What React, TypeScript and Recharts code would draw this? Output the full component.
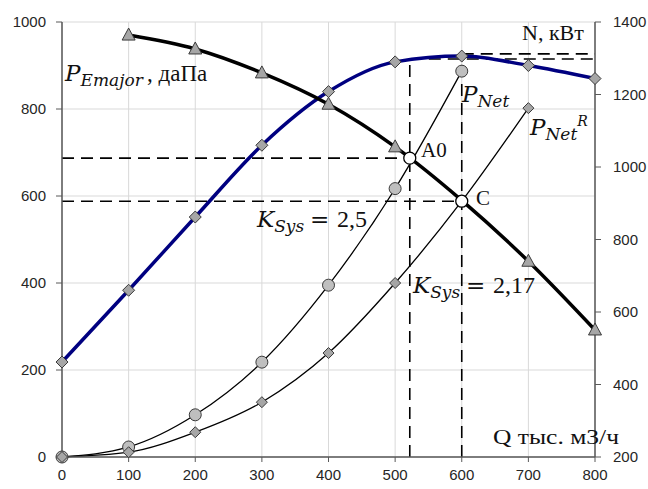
import React from 'react';
import {
  ComposedChart,
  Line,
  XAxis,
  YAxis,
  CartesianGrid,
  ReferenceLine,
  ReferenceDot,
} from 'recharts';

// Q, тыс. м3/ч
const q = [0, 100, 200, 300, 400, 500, 600, 700, 800];
// left axis, даПа
const pEmajor = [null, 970, 938, 883, 811, 713, 590, 450, 292];
const pNet = [0, 23, 97, 218, 395, 617, 887, null, null];
const pNetR = [0, 11, 57, 126, 239, 400, 588, 802, null];
// right axis, кВт
const nKw = [462, 660, 862, 1060, 1208, 1290, 1306, 1280, 1244];

const qTicks = [0, 100, 200, 300, 400, 500, 600, 700, 800];
const leftTicks = [0, 200, 400, 600, 800, 1000];
const rightTicks = [200, 400, 600, 800, 1000, 1200, 1400];

// operating points
const a0 = { q: 522, p: 687, n: 1298 };
const c = { q: 600, p: 588, n: 1312 };

const rows = q.map((v, i) => ({
  q: v,
  pE: pEmajor[i],
  n: nKw[i],
  pNet: pNet[i],
  pNetR: pNetR[i],
}));

const MARK_FILL = '#a6a6a6';
const MARK_STROKE = '#3a3a3a';
const tickStyle = { fontSize: 15, fill: '#262626', fontFamily: 'Liberation Sans, Arial, sans-serif' };
const dash = { stroke: '#000', strokeWidth: 1.6, strokeDasharray: '12 7' };

const triangle = (p: any) => {
  if (p.cx == null || p.cy == null || p.payload?.q === c.q) return <g key={p.key ?? p.index} />;
  const { cx, cy } = p;
  return (
    <path
      key={p.key ?? p.index}
      d={`M${cx},${cy - 7} L${cx + 6.5},${cy + 5} L${cx - 6.5},${cy + 5} Z`}
      fill={MARK_FILL}
      stroke={MARK_STROKE}
      strokeWidth={1}
    />
  );
};

const diamond = (size: number, hideAtC: boolean) => (p: any) => {
  if (p.cx == null || p.cy == null || (hideAtC && p.payload?.q === c.q)) return <g key={p.key ?? p.index} />;
  const { cx, cy } = p;
  return (
    <path
      key={p.key ?? p.index}
      d={`M${cx},${cy - size} L${cx + size},${cy} L${cx},${cy + size} L${cx - size},${cy} Z`}
      fill={MARK_FILL}
      stroke={MARK_STROKE}
      strokeWidth={1}
    />
  );
};

const circle = (p: any) => {
  if (p.cx == null || p.cy == null) return <g key={p.key ?? p.index} />;
  return (
    <circle
      key={p.key ?? p.index}
      cx={p.cx}
      cy={p.cy}
      r={6}
      fill="#bfbfbf"
      stroke={MARK_STROKE}
      strokeWidth={1}
    />
  );
};

const mathFont = 'DejaVu Serif, serif';
const textFont = 'Liberation Serif, Times New Roman, serif';

export default function App() {
  return (
    <div style={{ position: 'absolute', left: 0, top: 0, width: 648, height: 489, background: '#fff' }}>
      <ComposedChart width={648} height={489} data={rows} margin={{ top: 22, right: 0, bottom: 0, left: 0 }}>
        <CartesianGrid yAxisId="left" stroke="#d9d9d9" strokeWidth={1} />
        <XAxis
          dataKey="q"
          type="number"
          domain={[0, 800]}
          ticks={qTicks}
          height={32}
          tick={tickStyle}
          tickSize={5}
          tickMargin={7}
          axisLine={{ stroke: '#595959', strokeWidth: 1.5 }}
          tickLine={{ stroke: '#595959' }}
        />
        <YAxis
          yAxisId="left"
          domain={[0, 1000]}
          ticks={leftTicks}
          width={62}
          tick={tickStyle}
          tickSize={6}
          tickMargin={10}
          axisLine={{ stroke: '#595959', strokeWidth: 1.5 }}
          tickLine={{ stroke: '#595959' }}
        />
        <YAxis
          yAxisId="right"
          orientation="right"
          domain={[200, 1400]}
          ticks={rightTicks}
          width={53}
          tick={tickStyle}
          tickSize={6}
          tickMargin={12}
          axisLine={{ stroke: '#595959', strokeWidth: 1.5 }}
          tickLine={{ stroke: '#595959' }}
        />

        <ReferenceLine yAxisId="left" segment={[{ x: 0, y: a0.p }, { x: a0.q, y: a0.p }]} {...dash} />
        <ReferenceLine yAxisId="left" segment={[{ x: 0, y: c.p }, { x: c.q, y: c.p }]} {...dash} />
        <ReferenceLine yAxisId="right" segment={[{ x: a0.q, y: 200 }, { x: a0.q, y: a0.n }]} {...dash} />
        <ReferenceLine yAxisId="right" segment={[{ x: c.q, y: 200 }, { x: c.q, y: c.n }]} {...dash} />
        <ReferenceLine yAxisId="right" segment={[{ x: a0.q, y: a0.n }, { x: 800, y: a0.n }]} {...dash} />
        <ReferenceLine yAxisId="right" segment={[{ x: c.q, y: c.n }, { x: 800, y: c.n }]} {...dash} />

        <Line
          yAxisId="right"
          type="monotone"
          dataKey="n"
          stroke="#000080"
          strokeWidth={3.5}
          dot={diamond(6, false)}
          isAnimationActive={false}
        />
        <Line
          yAxisId="left"
          type="monotone"
          dataKey="pE"
          stroke="#000"
          strokeWidth={3.5}
          dot={triangle}
          isAnimationActive={false}
        />
        <Line
          yAxisId="left"
          type="monotone"
          dataKey="pNet"
          stroke="#000"
          strokeWidth={1.3}
          dot={circle}
          isAnimationActive={false}
        />
        <Line
          yAxisId="left"
          type="monotone"
          dataKey="pNetR"
          stroke="#000"
          strokeWidth={1.3}
          dot={diamond(5.5, true)}
          isAnimationActive={false}
        />

        <ReferenceDot yAxisId="left" x={a0.q} y={a0.p} r={6} fill="#fff" stroke="#000" strokeWidth={1.3} />
        <ReferenceDot yAxisId="left" x={c.q} y={c.p} r={6} fill="#fff" stroke="#000" strokeWidth={1.3} />
      </ComposedChart>

      <svg
        width={648}
        height={489}
        style={{ position: 'absolute', left: 0, top: 0, pointerEvents: 'none' }}
      >
        <text x={65} y={81} fontSize={23} fontFamily={mathFont} fontStyle="italic" fill="#111">
          P
          <tspan fontSize={17} dy={5}>Emajor</tspan>
          <tspan x={147} dy={-5} fontStyle="normal" fontFamily={textFont} fontSize={23}>, даПа</tspan>
        </text>
        <text x={462} y={102} fontSize={23} fontFamily={mathFont} fontStyle="italic" fill="#111">
          P
          <tspan fontSize={17} dy={5}>Net</tspan>
        </text>
        <text x={530} y={135} fontSize={23} fontFamily={mathFont} fontStyle="italic" fill="#111">
          P
          <tspan fontSize={17} dy={5}>Net</tspan>
          <tspan fontSize={14} dy={-14}>R</tspan>
        </text>
        <text x={421} y={157} fontSize={21} fontFamily={textFont} fill="#111">A0</text>
        <text x={476} y={205} fontSize={21} fontFamily={textFont} fill="#111">C</text>
        <text x={257} y={227} fontSize={23} fontFamily={mathFont} fontStyle="italic" fill="#111">
          K
          <tspan fontSize={17} dy={5}>Sys</tspan>
          <tspan x={310} dy={-5} fontStyle="normal" fontSize={23}>=</tspan>
          <tspan x={337} fontStyle="normal" fontFamily={textFont} fontSize={24}>2,5</tspan>
        </text>
        <text x={413} y={293} fontSize={23} fontFamily={mathFont} fontStyle="italic" fill="#111">
          K
          <tspan fontSize={17} dy={5}>Sys</tspan>
          <tspan x={466} dy={-5} fontStyle="normal" fontSize={23}>=</tspan>
          <tspan x={493} fontStyle="normal" fontFamily={textFont} fontSize={24}>2,17</tspan>
        </text>
        <text x={522} y={40} fontSize={22} fontFamily={textFont} fill="#111">N, кВт</text>
        <text x={493} y={444} fontSize={21} fontFamily={textFont} textLength={126} lengthAdjust="spacingAndGlyphs" fill="#111">
          Q тыс. м3/ч
        </text>
      </svg>
    </div>
  );
}
